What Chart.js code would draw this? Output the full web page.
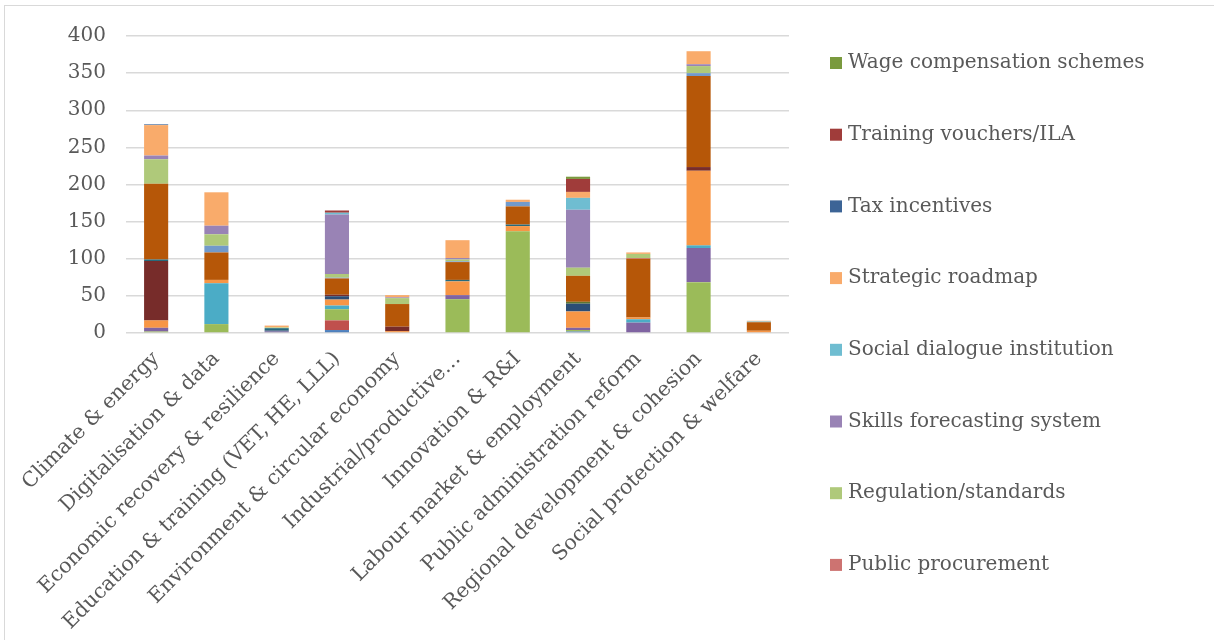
<!DOCTYPE html>
<html>
<head>
<meta charset="utf-8">
<script src="https://cdn.jsdelivr.net/npm/chart.js@4.4.1/dist/chart.umd.min.js"></script>
<style>
    body { margin: 0; background: #ffffff; }
    #wrap { position: relative; width: 1214px; height: 640px; overflow: hidden; }
    #frame { position: absolute; left: 4px; top: 5px; width: 1230px; height: 660px; border: 1px solid #d9d9d9; }
    #myChart01 { position: absolute; left: 0; top: 0; }
</style>
</head>
<body>
<div id="wrap">
    <div id="frame"></div>
    <canvas id="myChart01" width="1214" height="640"></canvas>
</div>
<script>
// categorias do eixo x
const categorias = [
    'Climate & energy',
    'Digitalisation & data',
    'Economic recovery & resilience',
    'Education & training (VET, HE, LLL)',
    'Environment & circular economy',
    'Industrial/productive…',
    'Innovation & R&I',
    'Labour market & employment',
    'Public administration reform',
    'Regional development & cohesion',
    'Social protection & welfare'
];

const ticks_y = [0, 50, 100, 150, 200, 250, 300, 350, 400];

// uma lista por série, na ordem do empilhamento (de baixo para cima)
const serie01 = [0, 0, 0, 4, 0, 0, 0, 2, 0, 0, 0];
const serie02 = [0, 0, 0, 13, 0, 0, 0, 0, 0, 0, 0];
const serie03 = [2, 12, 0, 15, 0, 45.5, 137, 2, 0, 68.5, 0];
const serie04 = [5, 0, 2, 0, 0, 5.5, 0, 3, 14, 46, 0];
const serie05 = [0, 55, 0, 5, 0, 0, 0, 0, 4.5, 3.5, 0];
const serie06 = [10, 4.5, 0, 8, 2.5, 18.5, 7, 22, 2.5, 100.5, 3];
const serie07 = [0, 0, 1.5, 4.5, 0, 0, 0, 10.5, 0, 0, 0];
const serie08 = [80, 0, 0, 2, 6, 0, 0, 0, 0, 5, 0];
const serie09 = [0, 0, 0, 0, 0, 0, 0, 2.5, 0, 0, 0];
const serie10 = [0, 0, 0, 0, 0, 0, 0, 0, 0, 0, 0];
const serie11 = [2, 0, 3, 0, 0, 2, 2, 0, 0, 0, 0];
const serie12 = [102, 37, 0, 22, 30.5, 24, 24.5, 35, 79, 122.5, 11.5];
const serie13 = [0, 9, 0, 1, 0, 1, 6, 0, 0, 4, 0];
const publicProcurement = [0, 0, 0, 0, 0, 0, 0, 0, 1, 0, 0];
const regulationStandards = [33, 15.5, 1, 5, 8, 2.5, 0, 11, 5.5, 9.5, 0];
const skillsForecasting = [5, 11.5, 0, 80, 1, 2, 0, 78, 0, 2.5, 0];
const socialDialogue = [0, 0, 0, 2.5, 0, 0, 0, 16, 0, 0, 1];
const strategicRoadmap = [41, 45, 2.5, 0, 3, 24, 3, 8, 2, 17.5, 1];
const taxIncentives = [1, 0, 0, 0, 0, 0, 0, 0, 0, 0, 0];
const trainingVouchers = [0, 0, 0, 3, 0, 0, 0, 17.5, 0, 0, 0];
const wageCompensation = [0, 0, 0, 0, 0, 0, 0, 3, 0, 0, 0];

const nomes_series = [
    'Série 1', 'Série 2', 'Série 3', 'Série 4', 'Série 5', 'Série 6', 'Série 7',
    'Série 8', 'Série 9', 'Série 10', 'Série 11', 'Série 12', 'Série 13',
    'Public procurement', 'Regulation/standards', 'Skills forecasting system',
    'Social dialogue institution', 'Strategic roadmap', 'Tax incentives',
    'Training vouchers/ILA', 'Wage compensation schemes'
];

const valores_series = [
    serie01, serie02, serie03, serie04, serie05, serie06, serie07,
    serie08, serie09, serie10, serie11, serie12, serie13,
    publicProcurement, regulationStandards, skillsForecasting,
    socialDialogue, strategicRoadmap, taxIncentives,
    trainingVouchers, wageCompensation
];

const cores = [
    '#4F81BD', '#C0504D', '#9BBB59', '#8064A2', '#4BACC6', '#F79646',
    '#2C4D75', '#772C2A', '#5F7530', '#4D3B62', '#276A7C', '#B65708',
    '#729ACA', '#CD7371', '#AFC97A', '#9983B5', '#6FBDD1', '#F9AB6B',
    '#3C6496', '#A03C3A', '#7A9A3E'
];

const PRIMEIRA_NA_LEGENDA = 13;
const fonte = "'DejaVu Serif', serif";
const corTexto = '#595959';

const datasets = [];
for (let i = 0; i < valores_series.length; i++) {
    datasets.push({
        label: nomes_series[i],
        data: valores_series[i],
        backgroundColor: cores[i],
        borderWidth: 0,
        categoryPercentage: 1,
        barPercentage: 0.4
    });
}

// legenda à direita, só as últimas séries, de cima para baixo na ordem inversa
const legendaDireita = {
    id: 'legendaDireita',
    afterDraw(chart) {
        const ctx = chart.ctx;
        const area = chart.chartArea;
        const x0 = area.right + 41;
        let y = area.top + 27;
        ctx.save();
        ctx.font = '20px ' + fonte;
        ctx.textBaseline = 'middle';
        ctx.textAlign = 'left';
        for (let i = chart.data.datasets.length - 1; i >= PRIMEIRA_NA_LEGENDA; i--) {
            const ds = chart.data.datasets[i];
            ctx.fillStyle = ds.backgroundColor;
            ctx.fillRect(x0, y - 6, 12, 12);
            ctx.fillStyle = corTexto;
            ctx.fillText(ds.label, x0 + 18, y);
            y += 71.7;
        }
        ctx.restore();
    }
};

const grafico1 = document.getElementById('myChart01');

new Chart(grafico1, {
    type: 'bar',
    data: {
        labels: categorias,
        datasets: datasets
    },
    options: {
        responsive: false,
        animation: false,
        maintainAspectRatio: false,
        layout: {
            padding: { left: 0, top: 36, right: 425, bottom: 0 }
        },
        plugins: {
            legend: { display: false },
            tooltip: { enabled: false }
        },
        scales: {
            x: {
                stacked: true,
                afterFit: function (scale) { scale.height = 307; },
                grid: { display: false },
                border: { display: false },
                ticks: {
                    autoSkip: false,
                    minRotation: 45,
                    maxRotation: 45,
                    padding: 6,
                    color: corTexto,
                    font: { family: fonte, size: 20.5 }
                }
            },
            y: {
                stacked: true,
                min: 0,
                max: 400,
                afterFit: function (scale) { scale.width = 126; },
                afterBuildTicks: function (scale) {
                    scale.ticks = ticks_y.map(function (v) { return { value: v }; });
                },
                grid: {
                    color: '#d9d9d9',
                    lineWidth: 1.5,
                    drawTicks: false
                },
                border: { display: false },
                ticks: {
                    padding: 20,
                    color: corTexto,
                    font: { family: fonte, size: 20 }
                }
            }
        }
    },
    plugins: [legendaDireita]
});
</script>
</body>
</html>
